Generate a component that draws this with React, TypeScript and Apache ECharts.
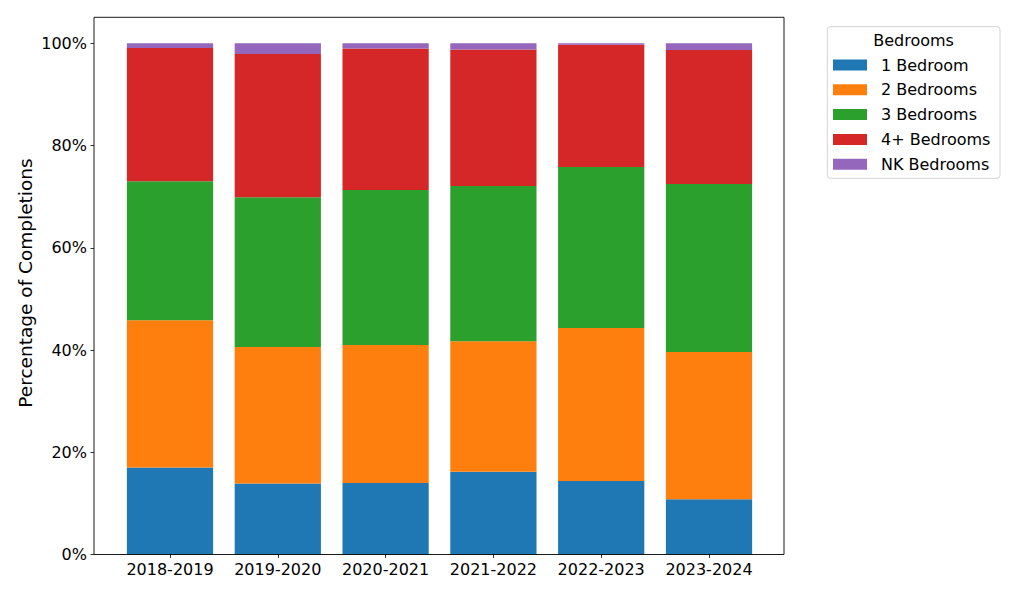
import React, { useEffect, useRef } from "react";
import * as echarts from "echarts";

const categories = ["2018-2019", "2019-2020", "2020-2021", "2021-2022", "2022-2023", "2023-2024"];
const seriesNames = ["1 Bedroom", "2 Bedrooms", "3 Bedrooms", "4+ Bedrooms", "NK Bedrooms"];
const oneBed = [17.0, 13.9, 14.0, 16.2, 14.4, 10.8];
const twoBed = [28.8, 26.7, 27.0, 25.5, 29.9, 28.8];
const threeBed = [27.2, 29.3, 30.3, 30.4, 31.5, 32.9];
const fourBed = [26.1, 28.0, 27.7, 26.7, 23.9, 26.2];
const nkBed = [0.9, 2.1, 1.0, 1.2, 0.3, 1.3];
const colors = ["#1f77b4", "#ff7f0e", "#2ca02c", "#d62728", "#9467bd"];
const yTicks = [0, 20, 40, 60, 80, 100];

const FONT = "DejaVu Sans";

export default function App() {
  const ref = useRef<HTMLDivElement>(null);
  useEffect(() => {
    if (!ref.current) return;
    const chart = echarts.init(ref.current, undefined, { renderer: "svg" });
    const values = [oneBed, twoBed, threeBed, fourBed, nkBed];
    const option: any = {
      animation: false,
      backgroundColor: "#ffffff",
      textStyle: { fontFamily: FONT },
      grid: { left: 116.1, right: 261.1, top: 43.3, bottom: 42.5, containLabel: false },
      xAxis: {
        type: "category",
        data: categories,
        axisLine: { show: false },
        axisTick: { show: true, alignWithLabel: true, interval: 0, length: 3.5, lineStyle: { color: "#000", width: 0.8 } },
        axisLabel: { color: "#000", fontSize: 16, fontFamily: FONT, margin: 7, interval: 0 },
      },
      yAxis: {
        type: "value",
        min: 0,
        max: 100,
        interval: 20,
        offset: 22.1,
        splitLine: { show: false },
        axisLine: { show: false },
        axisTick: { show: true, length: 3.5, lineStyle: { color: "#000", width: 0.8 } },
        axisLabel: {
          color: "#000",
          fontSize: 16,
          fontFamily: FONT,
          margin: 7,
          formatter: (v: number) => (yTicks.includes(v) ? v + "%" : ""),
        },
      },
      legend: {
        orient: "vertical",
        left: 828,
        top: 52,
        itemWidth: 34,
        itemHeight: 11,
        itemGap: 8.8,
        icon: "rect",
        data: seriesNames,
        textStyle: { fontSize: 16, fontFamily: FONT, color: "#000", lineHeight: 11, padding: [0, 0, 0, 9] },
      },
      graphic: [
        {
          type: "rect",
          shape: { x: 94, y: 17.3, width: 690, height: 537.2 },
          style: { fill: "none", stroke: "#000", lineWidth: 0.9 },
          z: 10,
          silent: true,
        },
        {
          type: "rect",
          shape: { x: 827.3, y: 26.7, width: 172.7, height: 151.6, r: 3 },
          style: { fill: "#fff", stroke: "#d4d4d4", lineWidth: 1 },
          z: -1,
          silent: true,
        },
        {
          type: "text",
          x: 913.6,
          y: 40,
          style: {
            text: "Bedrooms",
            fontSize: 16,
            fontFamily: FONT,
            fill: "#000",
            align: "center",
            verticalAlign: "middle",
          },
        },
        {
          type: "text",
          x: 25,
          y: 283,
          rotation: Math.PI / 2,
          style: {
            text: "Percentage of Completions",
            fontSize: 18.5,
            fontFamily: FONT,
            fill: "#000",
            align: "center",
            verticalAlign: "middle",
          },
        },
      ],
      series: seriesNames.map((name, i) => ({
        name,
        type: "bar",
        stack: "total",
        barWidth: "80%",
        data: values[i],
        itemStyle: { color: colors[i] },
      })),
    };
    chart.setOption(option);
    return () => chart.dispose();
  }, []);
  return <div ref={ref} style={{ position: "absolute", left: 0, top: 0, width: 1024, height: 597 }} />;
}
